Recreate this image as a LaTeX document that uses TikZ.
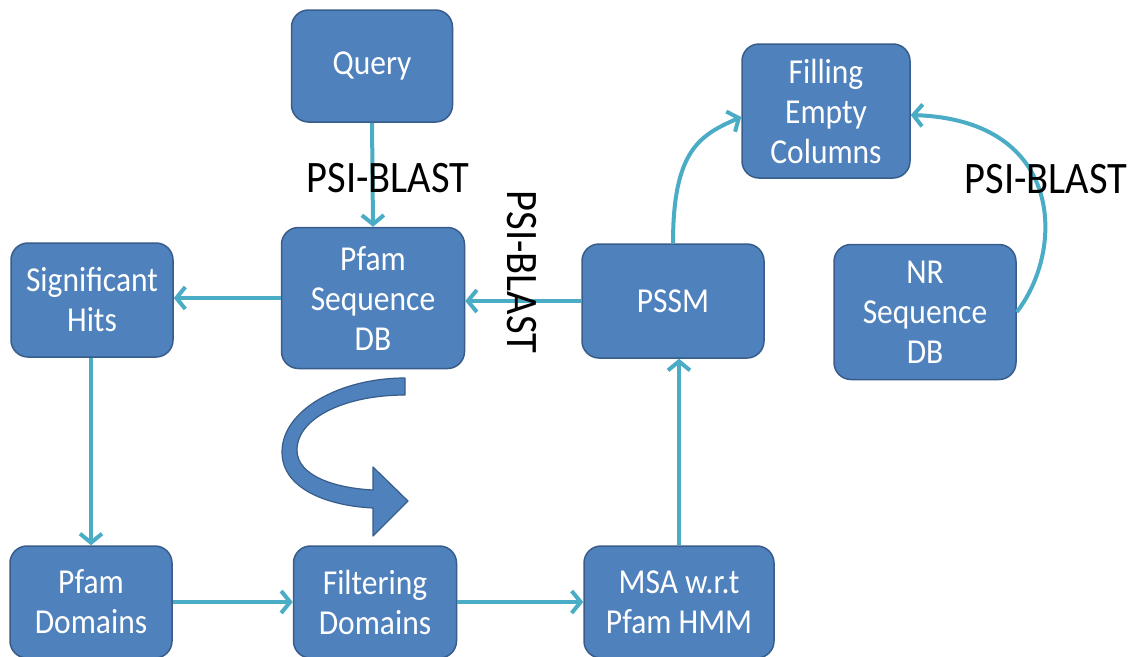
\documentclass[tikz,border=0pt]{standalone}
\usepackage{fontspec}
\setmainfont{Carlito}
\newfontfamily\narrowfont[FakeStretch=0.9]{Carlito}
\usetikzlibrary{arrows.meta,calc}

\definecolor{boxfill}{HTML}{4F81BD}
\definecolor{boxedge}{HTML}{385D8A}
\definecolor{linkcol}{HTML}{4BACC6}

\tikzset{
  box/.style={draw=boxedge, fill=boxfill, line width=1.5pt, rounded corners=17pt,
    text=white, align=center, inner sep=0pt,
    font=\narrowfont\fontsize{35}{40}\selectfont},
  link/.style={draw=linkcol, line width=4pt,
    -{Straight Barb[length=9pt,width=22pt]}},
  tag/.style={text=black, inner sep=0pt,
    font=\narrowfont\fontsize{45}{50}\selectfont},
  bigarrow/.style={fill=boxfill, draw=boxedge, line width=1.2pt, line join=round}
}

\begin{document}
\begin{tikzpicture}[x=1pt,y=-1pt]
\useasboundingbox (0,0) rectangle (1142,656);
\clip (0,0) rectangle (1142,656);
\fill[white] (0,0) rectangle (1142,656);

% process boxes
\node[box, minimum width=161pt, minimum height=112pt] (query)   at (372,66)  {Query};
\node[box, minimum width=183pt, minimum height=141pt] (pfamdb)  at (373,298) {Pfam\\Sequence\\DB};
\node[box, minimum width=162pt, minimum height=114pt] (sighits) at (92,300)  {Significant\\Hits};
\node[box, minimum width=182pt, minimum height=114pt] (pssm)    at (673,301) {PSSM};
\node[box, minimum width=168pt, minimum height=134pt] (filling) at (826,111) {Filling\\Empty\\Columns};
\node[box, minimum width=182pt, minimum height=135pt] (nr)      at (925,312) {NR\\Sequence\\DB};
\node[box, minimum width=162pt, minimum height=112pt] (pfamdom) at (91,602)  {Pfam\\Domains};
\node[box, minimum width=163pt, minimum height=112pt] (filtdom) at (375,602) {Filtering\\Domains};
\node[box, minimum width=190pt, minimum height=112pt] (msa)     at (679,602) {MSA w.r.t\\Pfam HMM};

% connectors
\draw[link] (query.south) -- (pfamdb.north);
\draw[link] (pfamdb.west) -- (sighits.east |- pfamdb.west);
\draw[link] (pssm.west) -- (pfamdb.east |- pssm.west);
\draw[link] (sighits.south -| pfamdom.north) -- (pfamdom.north);
\draw[link] (pfamdom.east) -- (filtdom.west);
\draw[link] (filtdom.east) -- (msa.west);
\draw[link] (msa.north) -- (msa.north |- pssm.south);
\draw[link] (pssm.north) .. controls (673,150) and (700,135) .. ([yshift=-6pt]filling.west);
\draw[link] (nr.east) .. controls (1065,250) and (1065,120) .. ([yshift=-4pt]filling.east);

% curved block arrow below the Pfam database
\draw[bigarrow] (405,378) .. controls (340,378) and (282,410) .. (282,452)
  .. controls (282,490) and (330,506) .. (373,508)
  -- (373,536) -- (408,501) -- (373,467) -- (373,490)
  .. controls (335,488) and (297,476) .. (297,450)
  .. controls (297,418) and (345,395) .. (405,395) -- cycle;

% method labels
\node[tag, anchor=base] (lab1) at (388,192) {PSI-BLAST};
\node[tag, rotate=-90] (lab2) at (522,272) {PSI-BLAST};
\node[tag, anchor=base] (lab3) at (1046,193) {PSI-BLAST};
\end{tikzpicture}
\end{document}
